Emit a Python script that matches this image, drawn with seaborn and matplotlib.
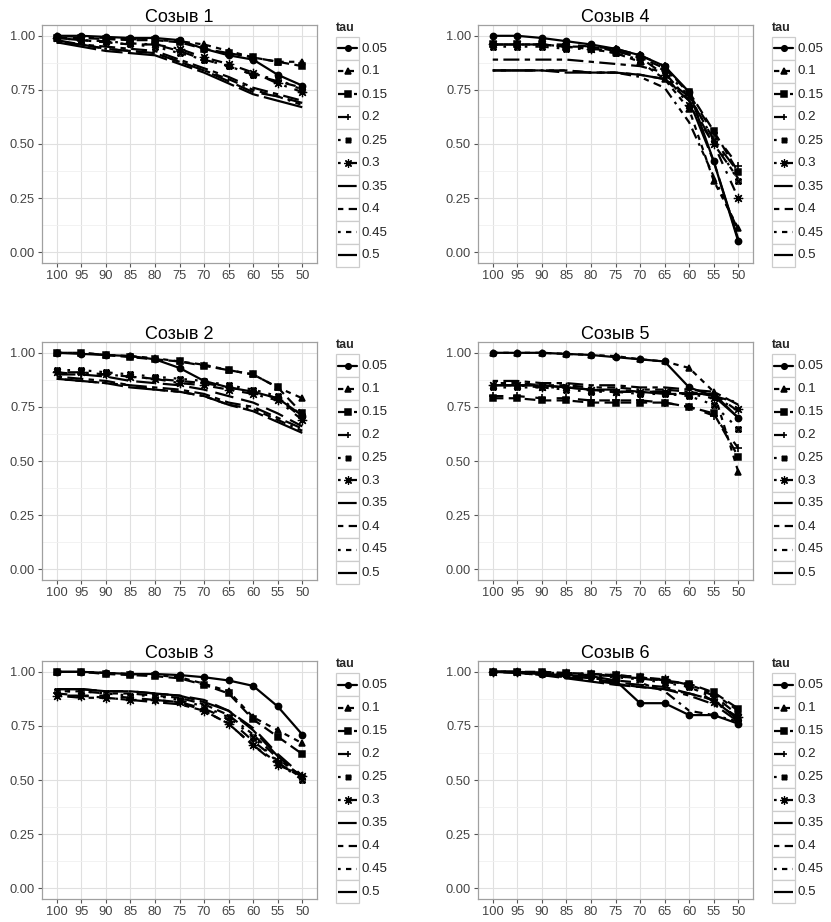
import numpy as np
import pandas as pd
import matplotlib
matplotlib.use('Agg')
import matplotlib.pyplot as plt
from matplotlib.path import Path
from matplotlib.lines import Line2D
from matplotlib.patches import Rectangle
import seaborn as sns

# x-axis categories (share of MPs kept), tau levels
cuts = ['100', '95', '90', '85', '80', '75', '70', '65', '60', '55', '50']
taus = ['0.05', '0.1', '0.15', '0.2', '0.25', '0.3', '0.35', '0.4', '0.45', '0.5']

# one row per tau, one column per cut
sozyv1 = [
    [1.00, 1.00, 0.995, 0.99, 0.99, 0.98, 0.94, 0.91, 0.89, 0.82, 0.77],
    [1.00, 0.995, 0.99, 0.985, 0.98, 0.975, 0.96, 0.93, 0.90, 0.88, 0.88],
    [0.99, 0.99, 0.985, 0.98, 0.98, 0.97, 0.94, 0.92, 0.90, 0.88, 0.86],
    [0.99, 0.98, 0.97, 0.96, 0.96, 0.93, 0.89, 0.86, 0.82, 0.79, 0.76],
    [0.99, 0.98, 0.97, 0.96, 0.95, 0.92, 0.89, 0.86, 0.82, 0.80, 0.75],
    [0.99, 0.98, 0.975, 0.965, 0.96, 0.94, 0.90, 0.87, 0.83, 0.78, 0.74],
    [0.98, 0.96, 0.94, 0.93, 0.92, 0.88, 0.84, 0.79, 0.74, 0.72, 0.69],
    [0.97, 0.96, 0.95, 0.94, 0.93, 0.89, 0.85, 0.81, 0.76, 0.73, 0.70],
    [0.97, 0.96, 0.94, 0.93, 0.92, 0.88, 0.84, 0.80, 0.75, 0.72, 0.68],
    [0.97, 0.95, 0.93, 0.92, 0.91, 0.87, 0.83, 0.78, 0.73, 0.70, 0.67],
]
sozyv2 = [
    [1.00, 0.995, 0.99, 0.985, 0.97, 0.93, 0.87, 0.84, 0.82, 0.79, 0.71],
    [1.00, 1.00, 0.99, 0.985, 0.975, 0.96, 0.945, 0.92, 0.90, 0.84, 0.79],
    [1.00, 1.00, 0.99, 0.98, 0.97, 0.96, 0.94, 0.92, 0.90, 0.84, 0.72],
    [0.91, 0.90, 0.90, 0.89, 0.88, 0.87, 0.86, 0.84, 0.82, 0.79, 0.70],
    [0.92, 0.92, 0.91, 0.90, 0.89, 0.88, 0.87, 0.85, 0.83, 0.80, 0.71],
    [0.91, 0.91, 0.90, 0.89, 0.88, 0.86, 0.85, 0.83, 0.81, 0.78, 0.69],
    [0.90, 0.90, 0.89, 0.87, 0.86, 0.85, 0.83, 0.80, 0.77, 0.72, 0.66],
    [0.89, 0.88, 0.87, 0.85, 0.84, 0.83, 0.81, 0.77, 0.75, 0.70, 0.65],
    [0.88, 0.87, 0.86, 0.85, 0.83, 0.82, 0.80, 0.76, 0.74, 0.69, 0.64],
    [0.88, 0.87, 0.86, 0.84, 0.83, 0.82, 0.80, 0.76, 0.73, 0.68, 0.63],
]
sozyv3 = [
    [1.00, 1.00, 0.995, 0.99, 0.99, 0.985, 0.975, 0.96, 0.935, 0.84, 0.71],
    [1.00, 1.00, 0.995, 0.99, 0.985, 0.975, 0.945, 0.91, 0.79, 0.73, 0.67],
    [1.00, 1.00, 0.99, 0.985, 0.98, 0.97, 0.94, 0.90, 0.78, 0.70, 0.62],
    [0.90, 0.89, 0.89, 0.88, 0.87, 0.86, 0.83, 0.78, 0.68, 0.59, 0.52],
    [0.91, 0.91, 0.90, 0.89, 0.89, 0.87, 0.84, 0.79, 0.70, 0.58, 0.50],
    [0.89, 0.89, 0.88, 0.87, 0.87, 0.86, 0.82, 0.76, 0.66, 0.57, 0.52],
    [0.92, 0.92, 0.91, 0.91, 0.90, 0.89, 0.87, 0.82, 0.74, 0.62, 0.52],
    [0.89, 0.88, 0.88, 0.87, 0.86, 0.85, 0.82, 0.76, 0.66, 0.58, 0.51],
    [0.91, 0.91, 0.90, 0.90, 0.89, 0.88, 0.85, 0.80, 0.71, 0.60, 0.51],
    [0.92, 0.92, 0.91, 0.91, 0.90, 0.89, 0.86, 0.82, 0.73, 0.61, 0.51],
]
sozyv4 = [
    [1.00, 1.00, 0.99, 0.975, 0.96, 0.94, 0.91, 0.86, 0.74, 0.42, 0.05],
    [0.96, 0.96, 0.96, 0.95, 0.94, 0.92, 0.88, 0.80, 0.66, 0.33, 0.11],
    [0.96, 0.96, 0.96, 0.95, 0.95, 0.93, 0.90, 0.85, 0.74, 0.56, 0.37],
    [0.96, 0.96, 0.96, 0.96, 0.95, 0.94, 0.91, 0.86, 0.73, 0.55, 0.40],
    [0.95, 0.95, 0.95, 0.94, 0.94, 0.92, 0.89, 0.84, 0.72, 0.52, 0.33],
    [0.96, 0.96, 0.96, 0.95, 0.94, 0.93, 0.90, 0.82, 0.68, 0.50, 0.25],
    [0.84, 0.84, 0.84, 0.84, 0.83, 0.83, 0.82, 0.80, 0.72, 0.52, 0.37],
    [0.89, 0.89, 0.89, 0.89, 0.88, 0.87, 0.86, 0.83, 0.70, 0.50, 0.34],
    [0.84, 0.84, 0.84, 0.84, 0.83, 0.83, 0.81, 0.76, 0.60, 0.35, 0.10],
    [0.84, 0.84, 0.84, 0.83, 0.83, 0.83, 0.82, 0.80, 0.70, 0.42, 0.06],
]
sozyv5 = [
    [1.00, 1.00, 1.00, 0.995, 0.99, 0.98, 0.97, 0.96, 0.84, 0.80, 0.70],
    [1.00, 1.00, 1.00, 0.995, 0.99, 0.985, 0.97, 0.96, 0.93, 0.82, 0.45],
    [0.79, 0.79, 0.78, 0.78, 0.77, 0.77, 0.77, 0.77, 0.75, 0.72, 0.52],
    [0.80, 0.80, 0.79, 0.79, 0.78, 0.78, 0.78, 0.77, 0.75, 0.71, 0.56],
    [0.84, 0.84, 0.84, 0.83, 0.82, 0.82, 0.81, 0.81, 0.80, 0.76, 0.65],
    [0.85, 0.85, 0.84, 0.84, 0.83, 0.82, 0.82, 0.82, 0.81, 0.79, 0.74],
    [0.85, 0.85, 0.85, 0.84, 0.83, 0.83, 0.82, 0.82, 0.81, 0.81, 0.73],
    [0.87, 0.87, 0.86, 0.86, 0.85, 0.85, 0.84, 0.84, 0.83, 0.82, 0.76],
    [0.86, 0.86, 0.85, 0.85, 0.84, 0.84, 0.83, 0.83, 0.82, 0.80, 0.77],
    [0.85, 0.85, 0.85, 0.84, 0.83, 0.82, 0.82, 0.81, 0.81, 0.81, 0.70],
]
sozyv6 = [
    [1.00, 1.00, 0.99, 0.985, 0.98, 0.96, 0.855, 0.855, 0.80, 0.80, 0.76],
    [1.00, 1.00, 0.995, 0.99, 0.99, 0.98, 0.97, 0.96, 0.94, 0.90, 0.82],
    [1.00, 1.00, 1.00, 0.995, 0.99, 0.985, 0.975, 0.96, 0.945, 0.905, 0.83],
    [1.00, 1.00, 0.995, 0.99, 0.985, 0.98, 0.97, 0.955, 0.935, 0.89, 0.80],
    [1.00, 1.00, 0.99, 0.99, 0.98, 0.975, 0.965, 0.95, 0.93, 0.88, 0.78],
    [1.00, 1.00, 0.995, 0.995, 0.99, 0.985, 0.975, 0.965, 0.94, 0.86, 0.79],
    [1.00, 1.00, 0.99, 0.98, 0.97, 0.95, 0.94, 0.93, 0.90, 0.87, 0.78],
    [1.00, 0.995, 0.985, 0.975, 0.96, 0.945, 0.93, 0.92, 0.89, 0.85, 0.77],
    [1.00, 1.00, 0.99, 0.98, 0.97, 0.96, 0.95, 0.91, 0.82, 0.80, 0.77],
    [1.00, 0.995, 0.985, 0.97, 0.955, 0.94, 0.93, 0.92, 0.90, 0.87, 0.78],
]

panels = [('Созыв 1', sozyv1), ('Созыв 4', sozyv4),
          ('Созыв 2', sozyv2), ('Созыв 5', sozyv5),
          ('Созыв 3', sozyv3), ('Созыв 6', sozyv6)]

sns.set_theme(style='white')
plt.rcParams['font.family'] = ['Liberation Sans', 'DejaVu Sans']

# ggplot-like shapes: 16, 17, 15, 3, 7, 8, then none
boxcross = Path([(-1, -1), (1, -1), (1, 1), (-1, 1), (-1, -1),
                 (-1, -1), (1, 1), (-1, 1), (1, -1)],
                [Path.MOVETO, Path.LINETO, Path.LINETO, Path.LINETO, Path.CLOSEPOLY,
                 Path.MOVETO, Path.LINETO, Path.MOVETO, Path.LINETO])
markers = ['o', '^', 's', '+', boxcross, (8, 2, 0), None, None, None, None]
dashes = [(None, None), (2, 2), (4, 2), (4, 4), (1, 3), (1, 3, 4, 3),
          (7, 3), (2, 2, 6, 2), (1, 2, 2, 2, 3, 2, 4, 2), (15, 2, 8, 2)]


def line_style(i):
    d = dashes[i]
    if d[0] is None:
        return '-'
    return (0, tuple(v * 1.2 for v in d))


def marker_kw(i, size):
    m = markers[i]
    if m is None:
        return dict(marker=None)
    kw = dict(marker=m, markersize=size, markeredgecolor='black',
              markerfacecolor='black', markeredgewidth=1.1)
    if m is boxcross:
        kw['markerfacecolor'] = 'none'
        kw['markersize'] = size * 0.8
    if m == '+':
        kw['markersize'] = size * 1.25
        kw['markeredgewidth'] = 1.2
    if isinstance(m, tuple):
        kw['markersize'] = size * 1.5
        kw['markeredgewidth'] = 0.9
    return kw


W, H = 831, 922
fig = plt.figure(figsize=(W / 100, H / 100), dpi=100)

col_left = [42, 478]
ax_w = 275
row_top = [25, 342, 661]
ax_h = 238

pos = np.arange(len(cuts))

for k, (title, values) in enumerate(panels):
    r, c = divmod(k, 2)
    left, top = col_left[c], row_top[r]
    ax = fig.add_axes([left / W, 1 - (top + ax_h) / H, ax_w / W, ax_h / H])

    df = pd.DataFrame(values, index=taus, columns=cuts)
    long = df.reset_index().melt(id_vars='index', var_name='cut', value_name='share')
    long['pos'] = long['cut'].map({cv: j for j, cv in enumerate(cuts)})

    for i, tau in enumerate(taus):
        sub = long[long['index'] == tau]
        sns.lineplot(data=sub, x='pos', y='share', ax=ax, color='black',
                     linewidth=1.6, linestyle=line_style(i), **marker_kw(i, 4.5))

    ax.set_xlim(-0.6, len(cuts) - 0.4)
    ax.set_ylim(-0.05, 1.05)
    ax.set_xticks(pos)
    ax.set_xticklabels(cuts)
    ax.set_yticks([0, 0.25, 0.5, 0.75, 1.0])
    ax.set_yticklabels(['0.00', '0.25', '0.50', '0.75', '1.00'])
    ax.set_yticks([0.125, 0.375, 0.625, 0.875], minor=True)
    ax.set_xlabel('')
    ax.set_ylabel('')
    ax.set_axisbelow(True)
    ax.grid(True, which='major', color='#e0e0e0', linewidth=0.8)
    ax.grid(True, which='minor', axis='y', color='#f0f0f0', linewidth=0.6)
    for sp in ax.spines.values():
        sp.set_color('#a0a0a0')
        sp.set_linewidth(0.9)
    ax.tick_params(axis='both', which='major', length=3, width=0.8, color='#555555',
                   labelsize=9.3, labelcolor='#444444', pad=2, bottom=True, left=True)
    ax.tick_params(axis='both', which='minor', length=0)
    ax.set_title(title, fontsize=13, pad=2, color='black')

    # ggplot-style legend with boxed keys
    lx = left + ax_w + 19
    fig.text(lx / W, 1 - (top + 3) / H, 'tau', fontsize=9, fontweight='bold',
             ha='left', va='center')
    key_top = top + 12
    for i, tau in enumerate(taus):
        y0 = key_top + i * 23
        fig.add_artist(Rectangle((lx / W, 1 - (y0 + 23) / H), 23 / W, 23 / H,
                                 transform=fig.transFigure, facecolor='white',
                                 edgecolor='#cccccc', linewidth=0.9))
        yc = 1 - (y0 + 11.5) / H
        fig.add_artist(Line2D([(lx + 2) / W, (lx + 21) / W], [yc, yc],
                              transform=fig.transFigure, color='black',
                              linewidth=1.6, linestyle=line_style(i)))
        if markers[i] is not None:
            fig.add_artist(Line2D([(lx + 11.5) / W], [yc], transform=fig.transFigure,
                                  linestyle='none', **marker_kw(i, 4)))
        fig.text((lx + 26) / W, yc, tau, fontsize=9.6, ha='left', va='center',
                 color='#222222')

fig.savefig('out.png', dpi=100)
